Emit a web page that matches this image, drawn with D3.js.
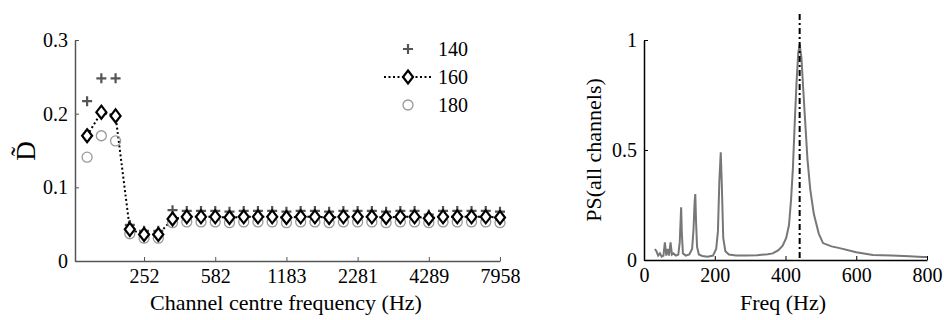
<!DOCTYPE html>
<html>
<head>
<meta charset="utf-8">
<script src="https://cdn.jsdelivr.net/npm/d3@7"></script>
<style>
  body { margin: 0; background: #fff; }
  svg text { font-family: "Liberation Serif", "Times New Roman", serif; fill: #000; }
</style>
</head>
<body>
<svg id="chart" width="944" height="320"></svg>
<script>
// left panel: channel index 1..30, tick labels are centre frequencies
const tickIdx = [5, 10, 15, 20, 25, 30];
const tickFreq = ["252", "582", "1183", "2281", "4289", "7958"];
const yTicksL = [0, 0.1, 0.2, 0.3];

const d140 = [0.217, 0.248, 0.248, 0.049, 0.041, 0.041, 0.069, 0.068, 0.068, 0.068, 0.067, 0.068, 0.068, 0.068,
  0.067, 0.068, 0.068, 0.067, 0.068, 0.068, 0.068, 0.067, 0.068, 0.068, 0.063, 0.068, 0.068, 0.068, 0.068, 0.067];
const d160 = [0.170, 0.202, 0.197, 0.043, 0.036, 0.036, 0.057, 0.060, 0.060, 0.060, 0.059, 0.060, 0.060, 0.060,
  0.059, 0.060, 0.060, 0.059, 0.060, 0.060, 0.060, 0.059, 0.060, 0.060, 0.058, 0.060, 0.060, 0.060, 0.060, 0.059];
const d180 = [0.141, 0.170, 0.163, 0.037, 0.031, 0.031, 0.052, 0.053, 0.053, 0.053, 0.052, 0.053, 0.053, 0.053,
  0.052, 0.053, 0.053, 0.052, 0.053, 0.053, 0.053, 0.052, 0.053, 0.053, 0.052, 0.053, 0.053, 0.053, 0.053, 0.052];
const legendNames = ["140", "160", "180"];

// right panel: summed power spectrum
const specFreq = [31, 35, 40, 45, 50, 55, 59, 63, 67, 71, 75, 79, 83, 90, 97, 101, 103, 105, 107, 110,
  118, 128, 136, 140, 143, 145, 147, 150, 155, 165, 180, 195, 204, 209, 213, 217, 220, 224, 230, 240,
  260, 290, 320, 350, 364, 380, 392, 402, 410, 416, 421, 426, 431, 436, 440, 445, 450, 456, 462, 470,
  480, 494, 506, 530, 553, 600, 647, 700, 750, 788, 800];
const specVal = [0.05, 0.04, 0.02, 0.03, 0.015, 0.02, 0.08, 0.02, 0.05, 0.02, 0.08, 0.025, 0.03, 0.02, 0.025, 0.08, 0.16, 0.24, 0.12, 0.03,
  0.02, 0.025, 0.05, 0.14, 0.26, 0.30, 0.18, 0.06, 0.025, 0.018, 0.015, 0.02, 0.05, 0.13, 0.36, 0.49, 0.34, 0.1, 0.04, 0.025,
  0.02, 0.02, 0.022, 0.026, 0.03, 0.045, 0.065, 0.1, 0.16, 0.28, 0.42, 0.62, 0.8, 0.94, 0.98, 0.92, 0.78, 0.62, 0.46, 0.32,
  0.21, 0.12, 0.077, 0.062, 0.054, 0.035, 0.023, 0.02, 0.017, 0.014, 0.014];
const pitchFreq = 440;
const xTicksR = [0, 200, 400, 600, 800];
const yTicksR = [0, 0.5, 1];

const svg = d3.select("#chart");
const serif = "Liberation Serif";
const tickFont = 20, labelFont = 22;

const styleAxis = (g, col) => {
  g.attr("font-family", serif);
  g.select(".domain").attr("stroke", col).attr("stroke-width", 1.5);
  g.selectAll(".tick line").attr("stroke", col);
  g.selectAll("text").attr("font-size", tickFont).attr("font-family", serif).attr("fill", "#000");
};

// ---------- left panel ----------
const xL = d3.scaleLinear().domain([0.15, 30]).range([75, 500]);
const yL = d3.scaleLinear().domain([0, 0.3]).range([261, 40]);
const gL = svg.append("g");

gL.append("g")
  .attr("transform", "translate(0,261)")
  .call(d3.axisBottom(xL).tickValues(tickIdx).tickFormat((d, i) => tickFreq[i]).tickSizeInner(-4).tickSizeOuter(0).tickPadding(8))
  .call(g => styleAxis(g, "#555"));

gL.append("g")
  .attr("transform", "translate(75,0)")
  .call(d3.axisLeft(yL).tickValues(yTicksL).tickFormat(d => d === 0 ? "0" : d3.format(".1f")(d)).tickSizeInner(-4).tickSizeOuter(0).tickPadding(7))
  .call(g => styleAxis(g, "#555"));

const plusPath = s => `M${-s},0H${s}M0,${-s}V${s}`;
const diamondPath = "M0,-6.5L5,0L0,6.5L-5,0Z";

// 160 line (dotted)
gL.append("path")
  .datum(d160)
  .attr("fill", "none")
  .attr("stroke", "#000")
  .attr("stroke-width", 2)
  .attr("stroke-dasharray", "2,2.5")
  .attr("d", d3.line().x((d, i) => xL(i + 1)).y(d => yL(d)));

gL.append("g").selectAll("circle")
  .data(d180).join("circle")
  .attr("cx", (d, i) => xL(i + 1)).attr("cy", d => yL(d)).attr("r", 5)
  .attr("fill", "none").attr("stroke", "#999").attr("stroke-width", 1.3);

gL.append("g").selectAll("path")
  .data(d140).join("path")
  .attr("transform", (d, i) => `translate(${xL(i + 1)},${yL(d)})`)
  .attr("d", plusPath(5))
  .attr("stroke", "#555").attr("stroke-width", 2.2);

gL.append("g").selectAll("path")
  .data(d160).join("path")
  .attr("transform", (d, i) => `translate(${xL(i + 1)},${yL(d)})`)
  .attr("d", diamondPath)
  .attr("fill", "#fff").attr("stroke", "#000").attr("stroke-width", 2.2);

// legend
const leg = gL.append("g");
leg.append("path").attr("transform", "translate(408,49)").attr("d", plusPath(5)).attr("stroke", "#555").attr("stroke-width", 2.2);
leg.append("line").attr("x1", 384).attr("x2", 431).attr("y1", 77).attr("y2", 77)
  .attr("stroke", "#000").attr("stroke-width", 2).attr("stroke-dasharray", "2,2.5");
leg.append("path").attr("transform", "translate(408,77)").attr("d", diamondPath).attr("fill", "#fff").attr("stroke", "#000").attr("stroke-width", 2.2);
leg.append("circle").attr("cx", 408).attr("cy", 105).attr("r", 5).attr("fill", "none").attr("stroke", "#999").attr("stroke-width", 1.3);
leg.selectAll("text").data(legendNames).join("text")
  .attr("x", 438).attr("y", (d, i) => 56 + i * 28)
  .attr("font-family", serif).attr("font-size", tickFont).text(d => d);

gL.append("text")
  .attr("x", 286).attr("y", 310).attr("text-anchor", "middle")
  .attr("font-family", serif).attr("font-size", labelFont)
  .text("Channel centre frequency (Hz)");
gL.append("text")
  .attr("transform", "translate(35,151) rotate(-90)")
  .attr("text-anchor", "middle").attr("font-family", serif).attr("font-size", 27)
  .text("D\u0303");

// ---------- right panel ----------
const xR = d3.scaleLinear().domain([0, 800]).range([644, 927]);
const yR = d3.scaleLinear().domain([0, 1]).range([260, 40]);
const gR = svg.append("g");

gR.append("g")
  .attr("transform", "translate(0,260)")
  .call(d3.axisBottom(xR).tickValues(xTicksR).tickSizeInner(-4).tickSizeOuter(0).tickPadding(8))
  .call(g => styleAxis(g, "#000"));

gR.append("g")
  .attr("transform", "translate(644,0)")
  .call(d3.axisLeft(yR).tickValues(yTicksR).tickFormat(d => String(d)).tickSizeInner(-4).tickSizeOuter(0).tickPadding(7))
  .call(g => styleAxis(g, "#000"));

gR.append("path")
  .datum(specFreq.map((f, i) => [f, specVal[i]]))
  .attr("fill", "none").attr("stroke", "#777").attr("stroke-width", 2)
  .attr("d", d3.line().x(d => xR(d[0])).y(d => yR(d[1])));

gR.append("line")
  .attr("x1", xR(pitchFreq)).attr("x2", xR(pitchFreq))
  .attr("y1", 14).attr("y2", 260)
  .attr("stroke", "#000").attr("stroke-width", 2).attr("stroke-dasharray", "6,3,2,3");

gR.append("text")
  .attr("x", 783).attr("y", 310).attr("text-anchor", "middle")
  .attr("font-family", serif).attr("font-size", labelFont)
  .text("Freq (Hz)");
gR.append("text")
  .attr("transform", "translate(601,150) rotate(-90)")
  .attr("text-anchor", "middle").attr("font-family", serif).attr("font-size", labelFont)
  .text("PS(all channels)");
</script>
</body>
</html>
